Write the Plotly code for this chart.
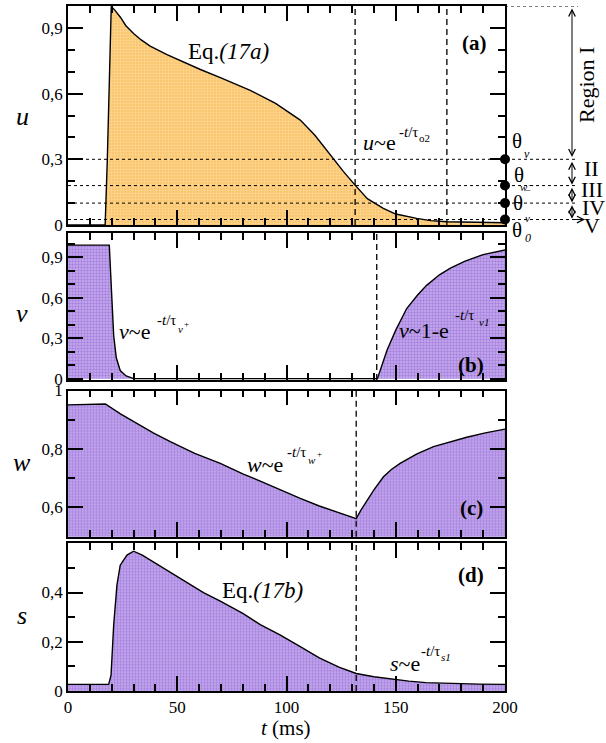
import plotly.graph_objects as go

# ---------------- data ----------------
t_u = [0, 17, 18, 19, 19.8, 21.5, 23.9, 26.5, 30, 33.5, 37.6, 45.3, 52, 60.6, 70, 83.4, 95, 106.3,
       113, 120, 126, 131.4, 137, 144.3, 150, 159.6, 166, 173.4, 185, 200]
u_vals = [0, 0, 0.3, 0.65, 0.998, 0.98, 0.95, 0.91, 0.874, 0.845, 0.817, 0.778, 0.748, 0.71, 0.672,
          0.615, 0.555, 0.479, 0.41, 0.32, 0.245, 0.182, 0.12, 0.076, 0.05, 0.03, 0.02, 0.015, 0.012, 0.01]

t_v = [0, 18.9, 20.0, 20.9, 22.1, 23.9, 26.6, 30.1, 141.6, 144, 146, 150, 155, 160, 164, 170, 175,
       181.5, 190, 200]
v_vals = [0.99, 0.99, 0.62, 0.32, 0.155, 0.06, 0.02, 0.0, 0.0, 0.12, 0.21, 0.36, 0.52, 0.62, 0.69,
          0.77, 0.82, 0.87, 0.92, 0.954]

t_w = [0, 17.1, 24, 31.5, 39, 46.8, 58, 69.7, 80, 88, 97, 106.3, 115, 123, 131.9, 134, 136.8, 140,
       144.4, 148, 152, 159.7, 167.3, 175, 182.5, 191, 200]
w_vals = [0.951, 0.954, 0.92, 0.888, 0.855, 0.825, 0.785, 0.751, 0.715, 0.69, 0.66, 0.631, 0.605,
          0.585, 0.562, 0.59, 0.625, 0.66, 0.705, 0.73, 0.751, 0.783, 0.808, 0.825, 0.84, 0.855, 0.868]

t_s = [0, 18.6, 19.7, 20.9, 22.4, 23.9, 27, 30, 34, 39.2, 46, 54.4, 62, 69.7, 80, 88, 97, 106.3, 115,
       124, 131.9, 140, 149.6, 156, 163.8, 175, 188, 200]
s_vals = [0.027, 0.027, 0.064, 0.267, 0.43, 0.511, 0.552, 0.568, 0.552, 0.524, 0.487, 0.443, 0.40,
          0.365, 0.315, 0.27, 0.228, 0.18, 0.135, 0.097, 0.071, 0.058, 0.047, 0.04, 0.034, 0.03, 0.028, 0.027]

thresholds = [0.3, 0.18, 0.1, 0.025]          # theta_v, theta_w-, theta_v-, theta_0
region_bounds = [1.0, 0.3, 0.18, 0.1, 0.025]
region_names = ["Region I", "II", "III", "IV", "V"]

dashed_a = [131.4, 173.4]
dashed_b = [141.3]
dashed_c = [131.9]
dashed_d = [131.9]

x_ticks = [0, 50, 100, 150, 200]
x_ticktext = ["0", "50", "100", "150", "200"]
ya_ticks, ya_text = [0, 0.3, 0.6, 0.9], ["0", "0,3", "0,6", "0,9"]
yb_ticks, yb_text = [0, 0.3, 0.6, 0.9], ["0", "0,3", "0,6", "0,9"]
yc_ticks, yc_text = [0.6, 0.8, 1.0], ["0,6", "0,8", "1"]
yd_ticks, yd_text = [0, 0.2, 0.4], ["0", "0,2", "0,4"]

# ---------------- layout geometry ----------------
W, H = 606, 743
ML, MR, MT, MB = 68, 101, 6, 52
PW, PH = W - ML - MR, H - MT - MB
FONT = "Liberation Serif"


def px(x, y):
    return (x - ML) / PW, (H - MB - y) / PH


def dom(top, bottom):
    return [(H - MB - bottom) / PH, (H - MB - top) / PH]


ORANGE_PAT = dict(shape=".", bgcolor="#F9C266", fgcolor="#FFEBC6", size=3, solidity=0.45)
PURPLE_PAT = dict(shape=".", bgcolor="#C6AEEE", fgcolor="#8452D0", size=3, solidity=0.5)

fig = go.Figure()
series = [(t_u, u_vals, "x", "y", ORANGE_PAT), (t_v, v_vals, "x2", "y2", PURPLE_PAT),
          (t_w, w_vals, "x3", "y3", PURPLE_PAT), (t_s, s_vals, "x4", "y4", PURPLE_PAT)]
for tx, vy, xa, ya, pat in series:
    fig.add_trace(go.Scatter(x=tx, y=vy, xaxis=xa, yaxis=ya, mode="lines",
                             line=dict(color="black", width=1.4), fill="tozeroy",
                             fillpattern=pat, showlegend=False, hoverinfo="skip"))

# threshold dots
fig.add_trace(go.Scatter(x=[200] * len(thresholds), y=thresholds, xaxis="x", yaxis="y", mode="markers",
                         marker=dict(color="black", size=10), cliponaxis=False, showlegend=False,
                         hoverinfo="skip"))

axis_common = dict(showline=True, linecolor="black", linewidth=1.8, mirror="allticks",
                   ticks="inside", ticklen=15, tickwidth=1.5, tickcolor="black",
                   showgrid=False, zeroline=False, automargin=False,
                   tickfont=dict(family=FONT, size=17, color="black"))

domains = [dom(6, 225), dom(233, 380), dom(390.5, 536.7), dom(543.3, 691)]
yranges = [[0, 1.0], [-0.01, 1.08], [0.5, 1.0], [0, 0.6]]
yticks = [(ya_ticks, ya_text), (yb_ticks, yb_text), (yc_ticks, yc_text), (yd_ticks, yd_text)]
for i in range(4):
    n = "" if i == 0 else str(i + 1)
    fig.layout["xaxis" + n] = dict(axis_common, domain=[0, 1], range=[0, 200], anchor="y" + n,
                                   tickmode="array", tickvals=x_ticks, ticktext=x_ticktext,
                                   showticklabels=(i == 3),
                                   minor=dict(ticks="inside", ticklen=7, tickwidth=1.5,
                                              tickcolor="black", tick0=0, dtick=10))
    fig.layout["yaxis" + n] = dict(axis_common, domain=domains[i], range=yranges[i], anchor="x" + n,
                                   tickmode="array", tickvals=yticks[i][0], ticktext=yticks[i][1],
                                   minor=dict(ticks="inside", ticklen=7, tickwidth=1.5,
                                              tickcolor="black", tick0=0, dtick=0.1))

shapes = []
for xa, ya, lst in [("x", "y", dashed_a), ("x2", "y2", dashed_b), ("x3", "y3", dashed_c), ("x4", "y4", dashed_d)]:
    for tv in lst:
        shapes.append(dict(type="line", xref=xa, yref=ya + " domain", x0=tv, x1=tv, y0=0, y1=1,
                           line=dict(color="black", width=1.3, dash="6px,4px")))
right_end = px(578, 0)[0]
for k, b in enumerate(region_bounds):
    x0 = 1.0 if k == 0 else 0.0
    shapes.append(dict(type="line", xref="paper", yref="y", x0=x0, x1=right_end, y0=b, y1=b,
                       line=dict(color="black", width=1, dash="dot")))

ann = []


def txt(x, y, text, size, **kw):
    xp, yp = px(x, y)
    d = dict(xref="paper", yref="paper", x=xp, y=yp, text=text, showarrow=False,
             xanchor="center", yanchor="middle", font=dict(family=FONT, size=size, color="black"))
    d.update(kw)
    ann.append(d)


# axis titles
txt(22, 117, "<i>u</i>", 26)
txt(22, 313, "<i>v</i>", 26)
txt(22, 462, "<i>w</i>", 26)
txt(22, 615, "<i>s</i>", 26)
txt(286, 728, "<i>t</i> (ms)", 21)

# panel labels
txt(474, 43, "<b>(a)</b>", 21)
txt(471, 365, "<b>(b)</b>", 21)
txt(471, 508, "<b>(c)</b>", 21)
txt(471, 575, "<b>(d)</b>", 21)

# equations
txt(228, 52, "Eq.<i>(17a)</i>", 23)
txt(262, 590, "Eq.<i>(17b)</i>", 23)

txt(379, 142, "<i>u</i>~e", 22)
txt(408, 132, "-<i>t</i>/τ", 15)
txt(424, 138, "o2", 11)

txt(134, 331, "<i>v</i>~e", 22)
txt(166, 320, "-<i>t</i>/τ", 15)
txt(180, 329, "<i>v</i>", 11)
txt(186, 324, "+", 9)

txt(424, 330, "<i>v</i>~1-e", 22)
txt(464, 315, "-<i>t</i>/τ", 15)
txt(484, 322, "<i>v1</i>", 11)

txt(265, 464, "<i>w</i>~e", 22)
txt(296, 452, "-<i>t</i>/τ", 15)
txt(312, 460, "<i>w</i>", 11)
txt(319, 454, "+", 9)

txt(405, 663, "<i>s</i>~e", 22)
txt(430, 651, "-<i>t</i>/τ", 15)
txt(446, 657, "<i>s1</i>", 11)

# theta labels
txt(517, 141, "θ", 21)
txt(527, 154, "<i>v</i>", 12)
txt(519, 175, "θ", 21)
txt(524, 187, "<i>w</i>", 11)
txt(531, 191, "‾", 12)
txt(518, 203, "θ", 21)
txt(528, 196, "‾", 12)
txt(527, 218, "<i>v</i>", 11)
txt(517, 230, "θ", 21)
txt(528, 238, "<i>0</i>", 12)

# region labels
txt(586, 85, region_names[0], 22, textangle=-90)
txt(591, 168, region_names[1], 22)
txt(592, 189, region_names[2], 22)
txt(593, 207, region_names[3], 22)
txt(592, 225, region_names[4], 22)

# region arrows
xa_arrow = px(572, 0)[0]
gaps = [0.01, 0.004, 0.003, 0.003]
for k in range(4):
    top, bot = region_bounds[k], region_bounds[k + 1]
    ann.append(dict(xref="paper", yref="y", x=xa_arrow, y=bot + gaps[k], axref="pixel", ax=0,
                    ayref="y", ay=top - (0.004 if k == 0 else gaps[k]), text="", showarrow=True,
                    arrowhead=5, startarrowhead=5, arrowside="end+start", arrowsize=1.3,
                    startarrowsize=1.3, arrowwidth=1, arrowcolor="black", standoff=0, startstandoff=0))
ann.append(dict(xref="paper", yref="y", x=px(585, 0)[0], y=region_bounds[4], axref="pixel", ax=-13,
                ayref="pixel", ay=0, text="", showarrow=True, arrowhead=5, arrowsize=1.3,
                arrowwidth=1, arrowcolor="black", standoff=0))

fig.update_layout(width=W, height=H, margin=dict(l=ML, r=MR, t=MT, b=MB, autoexpand=False),
                  paper_bgcolor="white", plot_bgcolor="white", shapes=shapes, annotations=ann,
                  font=dict(family=FONT, color="black"), showlegend=False)

fig.write_html("out.html", config={"displayModeBar": False},
               post_script="document.body.style.margin='0';document.body.style.overflow='hidden';")
